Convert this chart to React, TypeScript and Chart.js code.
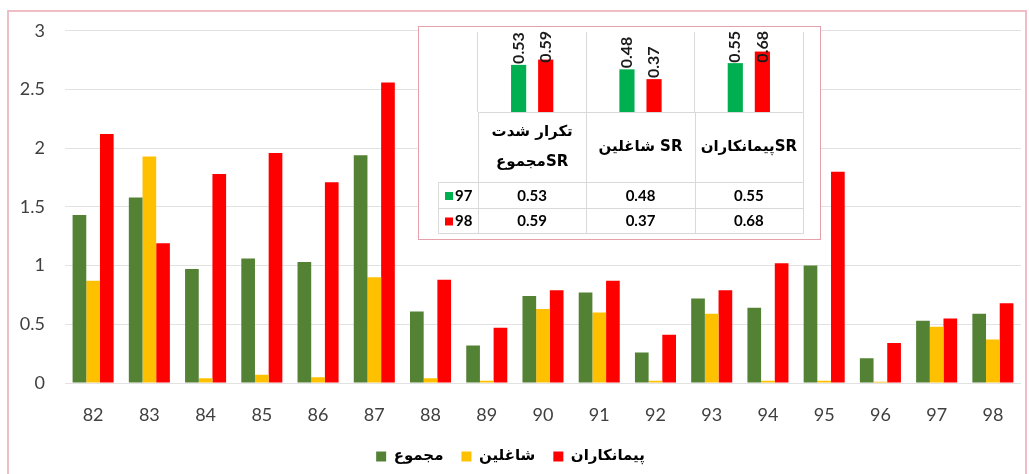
import React, { useEffect, useRef } from 'react';
import { Chart, registerables } from 'chart.js';

Chart.register(...registerables);

// ---------- main chart data ----------
const categories = ['82', '83', '84', '85', '86', '87', '88', '89', '90', '91', '92', '93', '94', '95', '96', '97', '98'];
const seriesNames = ['مجموع', 'شاغلین', 'پیمانکاران'];
const totalValues = [1.43, 1.58, 0.97, 1.06, 1.03, 1.94, 0.61, 0.32, 0.74, 0.77, 0.26, 0.72, 0.64, 1.0, 0.21, 0.53, 0.59];
const employeeValues = [0.87, 1.93, 0.04, 0.07, 0.05, 0.9, 0.04, 0.02, 0.63, 0.6, 0.02, 0.59, 0.02, 0.02, 0.01, 0.48, 0.37];
const contractorValues = [2.12, 1.19, 1.78, 1.96, 1.71, 2.56, 0.88, 0.47, 0.79, 0.87, 0.41, 0.79, 1.02, 1.8, 0.34, 0.55, 0.68];
const yTickLabels = ['0', '0.5', '1', '1.5', '2', '2.5', '3'];

// ---------- inset chart data ----------
const insetCategories = [['تکرار شدت', 'مجموعSR'], ['شاغلین SR'], ['پیمانکارانSR']];
const insetYears = ['97', '98'];
const inset97 = [0.53, 0.48, 0.55];
const inset98 = [0.59, 0.37, 0.68];

const NUM_FONT = 'Lato, "DejaVu Sans", sans-serif';
const FA_FONT = '"DejaVu Sans", sans-serif';

const C_GREEN = '#548235';
const C_YELLOW = '#ffc000';
const C_RED = '#ff0000';
const C_IN_GREEN = '#00b050';
const C_IN_RED = '#ff0000';

const insetLabelsPlugin = {
  id: 'insetLabels',
  afterDatasetsDraw(chart: any) {
    const ctx = chart.ctx;
    ctx.save();
    ctx.font = 'bold 16px ' + NUM_FONT;
    ctx.fillStyle = '#1a1a1a';
    chart.data.datasets.forEach((ds: any, di: number) => {
      const meta = chart.getDatasetMeta(di);
      meta.data.forEach((bar: any, i: number) => {
        const text = Number(ds.data[i]).toFixed(2);
        const w = ctx.measureText(text).width;
        let start = bar.y - 1;
        if (start - w < 4) start = 4 + w;
        ctx.save();
        ctx.translate(bar.x, start);
        ctx.rotate(-Math.PI / 2);
        ctx.textAlign = 'left';
        ctx.textBaseline = 'middle';
        ctx.fillText(text, 0, 0);
        ctx.restore();
      });
    });
    ctx.restore();
  },
};

const insetTablePlugin = {
  id: 'insetTable',
  afterDraw(chart: any) {
    const ctx = chart.ctx;
    const area = chart.chartArea;
    const xs = chart.scales.x;
    const n = insetCategories.length;
    const cw = (area.right - area.left) / n;
    const keyLeft = 19;
    const catBottom = 155;
    const row1Bottom = 181;
    const row2Bottom = 206;
    ctx.save();
    ctx.strokeStyle = '#d9d9d9';
    ctx.lineWidth = 1;
    const line = (x1: number, y1: number, x2: number, y2: number) => {
      ctx.beginPath();
      ctx.moveTo(Math.round(x1) + 0.5, Math.round(y1) + 0.5);
      ctx.lineTo(Math.round(x2) + 0.5, Math.round(y2) + 0.5);
      ctx.stroke();
    };
    line(area.left, area.bottom, area.right, area.bottom);
    line(keyLeft, catBottom, area.right, catBottom);
    line(keyLeft, row1Bottom, area.right, row1Bottom);
    line(keyLeft, row2Bottom, area.right, row2Bottom);
    line(keyLeft, catBottom, keyLeft, row2Bottom);
    for (let i = 0; i <= n; i++) {
      const x = area.left + i * cw;
      line(x, area.bottom, x, row2Bottom);
    }
    // category labels
    ctx.fillStyle = '#000';
    ctx.textAlign = 'center';
    ctx.textBaseline = 'middle';
    ctx.font = 'bold 15px ' + FA_FONT;
    insetCategories.forEach((lines, i) => {
      const cx = xs.getPixelForValue(i);
      const mid = (area.bottom + catBottom) / 2;
      const gap = 30;
      lines.forEach((t, k) => {
        const y = mid + (k - (lines.length - 1) / 2) * gap;
        ctx.fillText(t, cx, y);
      });
    });
    // values rows
    ctx.font = 'bold 15px ' + NUM_FONT;
    const rows = [inset97, inset98];
    const rowMid = [(catBottom + row1Bottom) / 2, (row1Bottom + row2Bottom) / 2];
    const keyColors = [C_IN_GREEN, C_IN_RED];
    rows.forEach((vals, r) => {
      vals.forEach((v, i) => {
        ctx.fillText(v.toFixed(2), xs.getPixelForValue(i), rowMid[r] + 1);
      });
      ctx.fillStyle = keyColors[r];
      ctx.fillRect(keyLeft + 7, rowMid[r] - 3, 8, 8);
      ctx.fillStyle = '#000';
      ctx.textAlign = 'left';
      ctx.fillText(insetYears[r], keyLeft + 17, rowMid[r] + 1);
      ctx.textAlign = 'center';
    });
    ctx.restore();
  },
};

export default function App() {
  const mainRef = useRef<HTMLCanvasElement>(null);
  const insetRef = useRef<HTMLCanvasElement>(null);

  useEffect(() => {
    const main = new Chart(mainRef.current as HTMLCanvasElement, {
      type: 'bar',
      data: {
        labels: categories,
        datasets: [
          { label: seriesNames[0], data: totalValues, backgroundColor: C_GREEN, categoryPercentage: 0.73, barPercentage: 1 },
          { label: seriesNames[1], data: employeeValues, backgroundColor: C_YELLOW, categoryPercentage: 0.73, barPercentage: 1 },
          { label: seriesNames[2], data: contractorValues, backgroundColor: C_RED, categoryPercentage: 0.73, barPercentage: 1 },
        ],
      },
      options: {
        responsive: false,
        maintainAspectRatio: false,
        animation: false,
        layout: { padding: { left: 0, right: 8, top: 28, bottom: 0 } },
        plugins: {
          tooltip: { enabled: false },
          legend: {
            position: 'bottom',
            labels: {
              boxWidth: 10,
              boxHeight: 10,
              padding: 18,
              color: '#000',
              font: { family: FA_FONT, size: 15, weight: 'bold' },
            },
          },
        },
        scales: {
          x: {
            grid: { display: false, drawTicks: false },
            border: { display: false },
            ticks: { color: '#404040', padding: 21, font: { family: NUM_FONT, size: 18 } },
            afterFit: (s: any) => {
              s.height = 48;
            },
          },
          y: {
            min: 0,
            max: 3,
            grid: { color: '#e2e2e2', drawTicks: false },
            border: { display: false },
            ticks: {
              stepSize: 0.5,
              padding: 20,
              color: '#404040',
              font: { family: NUM_FONT, size: 18 },
              callback: (_v: any, i: number) => yTickLabels[i],
            },
            afterFit: (s: any) => {
              s.width = 65;
            },
          },
        },
      },
    } as any);

    const inset = new Chart(insetRef.current as HTMLCanvasElement, {
      type: 'bar',
      data: {
        labels: insetCategories.map((c) => c.join(' ')),
        datasets: [
          { label: insetYears[0], data: inset97, backgroundColor: C_IN_GREEN, categoryPercentage: 0.5, barPercentage: 0.56 },
          { label: insetYears[1], data: inset98, backgroundColor: C_IN_RED, categoryPercentage: 0.5, barPercentage: 0.56 },
        ],
      },
      options: {
        responsive: false,
        maintainAspectRatio: false,
        animation: false,
        layout: { padding: { left: 59, right: 17, top: 5, bottom: 6 } },
        plugins: { legend: { display: false }, tooltip: { enabled: false } },
        scales: {
          x: {
            grid: { display: true, color: '#d9d9d9', drawTicks: false, offset: true },
            border: { display: false },
            ticks: { display: false },
            afterFit: (s: any) => {
              s.height = 121;
            },
          },
          y: { display: false, min: 0, max: 0.9 },
        },
      },
      plugins: [insetLabelsPlugin, insetTablePlugin],
    } as any);

    return () => {
      main.destroy();
      inset.destroy();
    };
  }, []);

  return (
    <div style={{ position: 'fixed', left: 0, top: 0, width: 1029, height: 474, background: '#fff', overflow: 'hidden' }}>
      <div
        style={{
          position: 'absolute',
          left: 7,
          top: 10,
          width: 1020,
          height: 480,
          border: '2px solid #efbdc5',
          boxSizing: 'border-box',
        }}
      />
      <canvas ref={mainRef} width={1029} height={474} style={{ position: 'absolute', left: 0, top: 0, width: 1029, height: 474 }} />
      <div
        style={{
          position: 'absolute',
          left: 418,
          top: 26,
          width: 403,
          height: 214,
          border: '1px solid #e6a0aa',
          boxSizing: 'border-box',
          background: '#fff',
        }}
      >
        <canvas ref={insetRef} width={401} height={212} style={{ display: 'block', width: 401, height: 212 }} />
      </div>
    </div>
  );
}
